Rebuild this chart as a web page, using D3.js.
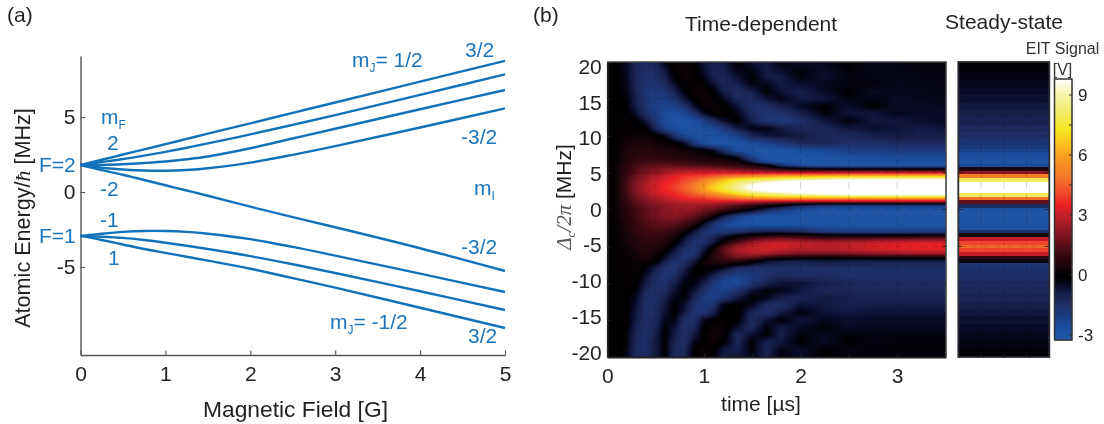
<!DOCTYPE html>
<html><head><meta charset="utf-8">
<style>
html,body{margin:0;padding:0;background:#fff;overflow:hidden}
#wrap{position:relative;width:1104px;height:424px}
canvas,svg{position:absolute;left:0;top:0}
text{font-family:"Liberation Sans",Arial,sans-serif}
</style>
<script src="https://d3js.org/d3.v7.min.js"></script>
</head><body><div id="wrap"><canvas id="heat" width="1104" height="424"></canvas><svg id="svg" width="1104" height="424"></svg></div>
<script>
// ---------- panel (a) data ----------
const fieldG = [0,.1,.25,.5,.75,1,1.25,1.5,2,2.5,3,4,5];
const levelA = [1.8,1.94,2.15,2.5,2.84,3.19,3.54,3.89,4.58,5.28,5.97,7.36,8.75];
const levelB = [1.8,1.88,2,2.2,2.43,2.68,2.95,3.24,3.84,4.48,5.13,6.48,7.85];
const levelC = [1.8,1.8,1.81,1.85,1.93,2.03,2.18,2.37,2.92,3.57,4.22,5.52,6.8];
const levelD = [1.8,1.72,1.62,1.5,1.43,1.42,1.47,1.58,1.96,2.48,3.06,4.3,5.58];
const levelE = [1.8,1.66,1.46,1.15,.8,.45,.1,-.25,-.98,-1.68,-2.35,-3.75,-5.27];
const levelF = [-2.93,-2.87,-2.78,-2.66,-2.6,-2.6,-2.66,-2.78,-3.14,-3.66,-4.24,-5.44,-6.67];
const levelG = [-2.93,-2.95,-2.98,-3.06,-3.2,-3.38,-3.58,-3.8,-4.28,-4.82,-5.4,-6.62,-7.87];
const levelH = [-2.93,-3.03,-3.2,-3.5,-3.8,-4.06,-4.32,-4.58,-5.12,-5.74,-6.38,-7.72,-9.07];
const levels = [levelA,levelB,levelC,levelD,levelE,levelF,levelG,levelH];
const fieldTicks = [0,1,2,3,4,5];
const energyTicks = [-5,0,5];

// ---------- panel (b) data ----------
const timeUs = [0,.1,.2,.3,.4,.5,.6,.7,.8,.9,1,1.1,1.2,1.35,1.5,1.65,1.8,2,2.25,2.5,2.75,3,3.25,3.5];
const detuning = [20,19,18,17,16,15,14,13,12,11,10,9,8,7,6.5,6,5.5,5,4.5,4,3.5,3,2.5,2,1.5,1,.5,0,-1,-2,-3,-3.5,-4,-4.5,-5,-5.5,-6,-6.5,-7,-8,-9,-10,-11,-12,-13,-14,-15,-16,-17,-18,-19,-20];
const signal = [
[-.1,-.1,-.5,-1.2,-1.4,-1.2,-.3,.2,.2,-.1,-.7,-1.1,-.9,-.1,-.7,-.9,-.2,-.6,-.4,-.1,-.4,-.3,-.2,-.2],
[-.1,-.1,-.45,-1.2,-1.45,-1.35,-.7,.05,.25,.05,-.55,-1.05,-1.05,-.25,-.35,-.9,-.5,-.25,-.5,-.2,-.35,-.3,-.25,-.25],
[-.1,-.1,-.4,-1.2,-1.5,-1.5,-1,-.1,.25,.1,-.4,-1,-1.2,-.6,-.1,-.9,-.9,-.2,-.6,-.25,-.3,-.4,-.3,-.3],
[-.1,-.1,-.35,-1.2,-1.6,-1.65,-1.3,-.55,.05,.2,0,-.6,-1.2,-1,-.3,-.4,-.9,-.6,-.4,-.3,-.2,-.4,-.3,-.3],
[-.1,-.1,-.3,-1.1,-1.7,-1.9,-1.7,-1,-.2,.2,.3,-.1,-.9,-1.4,-1,-.1,-.7,-1,-.5,-.1,-.5,-.4,-.4,-.3],
[-.1,-.1,-.2,-1,-1.7,-2,-2,-1.6,-.7,-.05,.25,.1,-.4,-1.3,-1.4,-.7,-.3,-.9,-.8,-.3,-.3,-.5,-.4,-.35],
[-.1,-.1,-.1,-.9,-1.6,-2.1,-2.3,-2.2,-1.6,-.5,.1,.25,.05,-.7,-1.5,-1.5,-1,-.5,-.1,-.6,-.1,-.5,-.5,-.4],
[-.1,0,0,-.6,-1.4,-2,-2.5,-2.7,-2.4,-1.7,-.6,.05,.15,-.3,-1.3,-1.7,-1.6,-1.1,-.2,-.7,-.8,-.4,-.5,-.5],
[-.1,0,.1,-.1,-.7,-1.7,-2.5,-2.9,-3,-2.7,-2.2,-1.4,-.6,-.05,-1,-1.7,-1.9,-1.6,-.8,-.2,-.8,-.8,-.6,-.5],
[-.1,0,.1,.1,-.1,-1.2,-2.2,-2.6,-2.8,-2.8,-2.6,-2.4,-1.9,-.9,-.3,-.3,-.8,-1.2,-1.2,-.8,-.6,-.7,-.9,-.7],
[-.1,0,.2,.2,.2,.1,-.4,-1.6,-2.5,-2.8,-2.9,-2.8,-2.7,-2.2,-1.2,-.8,-.7,-.9,-1.3,-1.3,-1,-.9,-1,-1],
[-.1,.1,.3,.4,.4,.3,.2,.1,-.5,-1.8,-2.7,-3,-3,-2.9,-2.5,-2.1,-1.8,-1.2,-1.2,-1.5,-1.5,-1.3,-1.3,-1.3],
[-.1,.1,.4,.6,.7,.6,.5,.4,.3,.2,.1,-.4,-1.5,-2.7,-3,-3,-3,-2.8,-2.4,-2,-1.9,-1.9,-1.9,-1.9],
[-.1,.1,.5,.8,.9,.9,.8,.7,.6,.5,.4,.3,.2,-.3,-2,-3,-3.1,-3.1,-3,-2.8,-2.7,-2.6,-2.6,-2.6],
[-.1,.1,.6,1,1.1,1.1,1.1,1,.9,.8,.7,.6,.5,.3,-1.2,-2.6,-3,-3.1,-3,-3,-2.9,-2.8,-2.8,-2.8],
[-.1,.2,.7,1.2,1.4,1.5,1.6,1.5,1.4,1.3,1.3,1.2,1.1,.9,.6,.1,-1.5,-2.6,-3,-3,-3,-3,-3,-3],
[-.1,.2,.8,1.4,1.7,1.9,2.1,2.2,2.2,2.2,2.2,2.1,2,1.7,1.4,1.1,.6,.2,0,-.1,-.1,-.1,-.1,-.1],
[-.1,.2,.9,1.5,1.9,2.2,2.5,2.8,3,3.1,3.2,3.2,3.2,3.1,3,2.9,2.8,2.8,2.8,2.9,3,3,3,3],
[-.1,.2,1,1.7,2.2,2.7,3,3.4,3.7,3.9,4.1,4.4,4.8,5.2,5.6,5.9,6.1,6.3,6.5,6.7,6.8,6.9,7,7],
[-.1,.2,1.1,1.9,2.4,2.9,3.3,3.6,4,4.4,5,5.7,6.5,7.5,8,8.4,8.8,9.2,9.6,9.9,10,10,10,10],
[-.1,.2,1.2,2,2.6,3.1,3.5,3.8,4.3,4.9,5.6,6.4,7.2,8.4,9.3,10,10.5,10.8,11,11,11,11,11,11],
[-.1,.2,1.2,2,2.6,3.2,3.6,4,4.5,5.1,5.9,6.8,7.6,8.8,9.9,10.6,11,11,11,11,11,11,11,11],
[-.1,.2,1.2,2,2.6,3.1,3.5,3.8,4.3,4.9,5.6,6.4,7.2,8.3,9.2,9.8,10.2,10.6,10.8,11,11,11,11,11],
[-.1,.2,1.1,1.9,2.4,2.9,3.2,3.5,3.9,4.3,4.7,5.2,5.7,6.6,7.5,8,8.4,8.8,9.3,9.6,9.8,9.8,9.8,9.8],
[-.1,.2,1,1.7,2.2,2.6,2.9,3.2,3.5,3.7,3.9,4.1,4.4,4.8,5.2,5.4,5.6,5.6,5.6,5.6,5.6,5.6,5.6,5.6],
[-.1,.2,.9,1.5,1.9,2.2,2.5,2.7,2.9,3,3,3,2.9,2.8,2.6,2.3,2.1,2,1.9,1.9,1.9,1.9,1.9,1.9],
[-.1,.2,.8,1.3,1.7,2,2.2,2.4,2.4,2.4,2.3,2.1,1.8,1.3,.7,.2,-.3,-1.2,-1.8,-2,-2,-2,-2,-2],
[-.1,.2,.7,1.2,1.6,1.9,2.2,2.4,2.4,2.3,2,1.7,1.3,.7,-.1,-1,-1.8,-2.6,-3,-3,-3,-3,-3,-3],
[-.1,.2,.6,1.1,1.5,1.8,2,2.1,1.9,1.6,1,.1,-1,-2.2,-2.9,-3.1,-3.1,-3,-3,-3,-3,-3,-3,-3],
[-.1,.1,.5,1,1.3,1.5,1.6,1.5,1.1,.5,-.5,-1.6,-2.3,-2.9,-3,-3,-3,-3,-3,-3,-3,-3,-3,-3],
[-.1,.1,.4,.9,1.1,1.2,1.1,.8,.2,-.7,-1.6,-1.9,-1.9,-1.7,-1.2,-1,-1,-1.3,-1.9,-2,-2,-2,-2,-2],
[-.1,.1,.3,.7,1,1,.9,.5,-.3,-1.1,-1.6,-1.4,-.9,-.3,.1,.4,.6,.5,.2,0,0,0,.1,.1],
[-.1,.1,.3,.6,.9,.9,.7,.2,-.6,-1.4,-1.6,-1,-.3,.6,1.4,1.8,2,1.8,1.5,1.6,1.7,1.8,1.9,1.9],
[-.1,.1,.3,.5,.8,.7,.5,0,-.9,-1.6,-1.5,-.8,.2,1.4,2.3,2.8,3,2.8,2.6,2.7,2.9,3.1,3.2,3.2],
[-.1,.1,.2,.5,.7,.6,.3,-.4,-1.2,-1.7,-1.2,-.1,1.2,2.4,3,3.3,3.3,3,2.9,3,3.3,3.5,3.6,3.6],
[-.1,.1,.2,.4,.6,.4,.1,-.7,-1.5,-1.7,-.8,.4,1.5,2.6,3,3,2.8,2.6,2.6,2.8,3,3.1,3.2,3.2],
[-.1,.1,.2,.3,.5,.3,-.2,-1,-1.6,-1.6,-.4,.5,1.4,2.3,2.6,2.5,2.2,1.9,1.8,2,2.2,2.3,2.4,2.4],
[-.1,.1,.15,.3,.4,.2,-.5,-1.2,-1.7,-1.4,-.3,.6,1.2,1.8,1.7,1,.5,.3,.1,.2,.3,.3,.3,.3],
[-.1,.1,.1,.2,.3,0,-.9,-1.6,-1.5,-.8,.2,.5,.8,.8,.2,-.6,-.9,-1,-.8,-.9,-1,-1,-1,-1],
[-.1,.1,.1,.2,-.2,-1,-1.6,-1.7,-1,-.2,.1,-.1,-.5,-1.3,-1.6,-1.6,-1.5,-1.5,-1.5,-1.5,-1.5,-1.5,-1.5,-1.5],
[-.1,0,.1,.1,-.5,-1.3,-1.7,-1.4,-.6,-.1,-.3,-1,-1.7,-2.2,-1.9,-1.5,-1.3,-1.4,-1.4,-1.5,-1.5,-1.5,-1.5,-1.5],
[-.1,0,.1,0,-.9,-1.5,-1.6,-1,-.2,-.2,-1,-1.8,-2.4,-2.6,-1.8,-1.1,-.7,-.7,-1,-1.3,-1.4,-1.4,-1.4,-1.4],
[-.1,0,.1,-.2,-1.2,-1.5,-1.3,-.6,-.1,-.7,-1.5,-2,-2.2,-1.6,-.7,-.2,-.3,-.8,-1.2,-1.2,-1.3,-1.3,-1.3,-1.3],
[-.1,0,0,-.5,-1.4,-1.5,-1,-.3,-.2,-1.1,-1.9,-2.1,-1.7,-.8,-.1,-.4,-1,-1.1,-.8,-1,-1.1,-1.1,-1.1,-1.1],
[-.1,0,0,-.7,-1.5,-1.4,-.8,-.1,-.6,-1.5,-1.9,-1.5,-.3,.05,-.4,-1.4,-1.5,-.7,-.8,-1,-.9,-.9,-.9,-.9],
[-.1,0,0,-.8,-1.5,-1.4,-.6,-.1,-.8,-1.6,-1.7,-1,-.1,.05,-1.2,-1.5,-.9,-.2,-.7,-.8,-.7,-.7,-.7,-.7],
[-.1,0,0,-.9,-1.5,-1.3,-.4,-.3,-1.5,-1.6,-.4,-.1,.15,-.1,-1.4,-.7,-.1,-.8,-.4,-.6,-.5,-.5,-.5,-.5],
[-.1,0,-.1,-1.1,-1.5,-1.2,-.2,-.7,-1.5,-1.3,-.1,.15,.25,-.6,-1.3,-.2,-.9,-.5,-.2,-.5,-.4,-.4,-.4,-.4],
[-.1,0,-.2,-1.2,-1.5,-1,-.1,-.9,-1.5,-.9,0,.35,.1,-1.2,-.6,-.1,-1,-.2,-.5,-.2,-.3,-.3,-.3,-.3],
[-.1,0,-.2,-1.3,-1.5,-.9,-.1,-1.2,-1.5,-.4,-.05,.3,0,-1.2,-.1,-1.1,-.8,-.1,-.5,-.1,-.3,-.2,-.2,-.2],
[-.1,0,-.3,-1.3,-1.5,-.9,-.1,-1.3,-1.3,-.1,.25,0,-.8,-1,-.2,-1.1,-.3,-.6,-.1,-.3,-.2,-.2,-.2,-.2],
[-.1,0,-.4,-1.3,-1.4,-.8,-.1,-1.4,-1.2,-.1,.25,0,-.9,-.8,-.3,-1.1,-.2,-.5,-.1,-.3,-.2,-.2,-.2,-.2]
];
const steadyDetuning = [20,19,18,17,16,15,14,13,12,11,10,9,8.5,8,7.5,7,6.5,6,5.5,5,4.5,4,3.5,3,2.5,2,1.5,1,.5,0,-.5,-1,-1.5,-2,-2.5,-3,-3.5,-4,-4.5,-5,-5.5,-6,-6.5,-7,-7.5,-8,-8.5,-9,-10,-11,-12,-13,-14,-15,-16,-17,-18,-19,-20];
const steadySignal = [-.15,-.2,-.3,-.4,-.5,-.65,-.8,-.95,-1.1,-1.3,-1.5,-1.7,-1.9,-2.2,-2.5,-2.8,-3,-2.6,.5,2.3,5,8,10.5,11,10.5,8,4.8,1.6,-1.4,-3,-3,-3,-3,-3,-2.9,-1.6,.3,3,4,4.7,4,3,.9,-.3,-1.7,-1.6,-1.5,-1.5,-1.4,-1.25,-1.1,-.95,-.8,-.65,-.5,-.4,-.3,-.2,-.1];
const timeTickLabels = [0,1,2,3];
const detuningTicks = [20,15,10,5,0,-5,-10,-15,-20];
const minorTimes = [.5,1,1.5,2,2.5,3];
const barTicks = [9,6,3,0,-3];
const barMinor = [7.5,4.5,1.5,-1.5];
const cmapValues = [-3.25,-2.5,-2,-1.5,-1,-.5,-.12,.12,.4,1,2,3,3.5,4,5,6,6.5,7.3,8,9,9.8];
const cmapColors = ["#2059a8","#1a4a9a","#1c3b80","#1d2f68","#17204c","#080926","#000000","#050105","#1a040a","#350811","#7e1420","#c5202a","#ed2024","#f0432b","#f47c2a","#f9a11f","#fbc01e","#f5e620","#f4ea60","#f6f2a8","#ffffff"];

const colour = d3.scaleLinear().domain(cmapValues).range(cmapColors).clamp(true);
const INK = "#231f20", BLUE = "#1a75bc", FS = 21;
const svg = d3.select("#svg");
const intLabel = d => String(d);

function styleAxis(g, stroke, width){
  g.selectAll("path").attr("stroke",stroke).attr("stroke-width",width);
  g.selectAll("line").attr("stroke",stroke).attr("stroke-width",1.1);
  g.selectAll("text").attr("fill",INK).attr("font-size",FS).attr("font-family","Liberation Sans");
}
function label(t,x,y,opt={}){
  return svg.append("text").attr("x",x).attr("y",y).attr("fill",opt.fill||INK)
    .attr("font-size",opt.size||FS).attr("text-anchor",opt.anchor||"start").text(t);
}
function blueSub(main,sub,x,y,rest){
  const e = label("",x,y,{fill:BLUE});
  e.append("tspan").text(main);
  e.append("tspan").attr("dy",5).attr("font-size",12).text(sub);
  if(rest) e.append("tspan").attr("dy",-5).text(rest);
}

// ---------- panel (a) ----------
const xA = d3.scaleLinear().domain([0,5]).range([80.5,505]);
const yA = d3.scaleLinear().domain([-10.87,9.07]).range([355,56]);
const gxA = svg.append("g").attr("transform","translate(0,355)")
  .call(d3.axisBottom(xA).tickValues(fieldTicks).tickFormat(intLabel).tickSize(-4.5).tickPadding(11).tickSizeOuter(0));
styleAxis(gxA,"#555",1.4);
const gyA = svg.append("g").attr("transform","translate(80.5,0)")
  .call(d3.axisLeft(yA).tickValues(energyTicks).tickFormat(intLabel).tickSize(-4.5).tickPadding(5).tickSizeOuter(0));
styleAxis(gyA,"#555",1.4);
const lineA = d3.line().x((d,i)=>xA(fieldG[i])).y(d=>yA(d)).curve(d3.curveCatmullRom);
svg.append("g").selectAll("path").data(levels).join("path")
  .attr("d",lineA).attr("fill","none").attr("stroke","#1272b9").attr("stroke-width",2.4);

label("(a)",7,22);
label("(b)",533,22);
label("Magnetic Field [G]",295.5,417,{anchor:"middle",size:22.8});
const ylabA = svg.append("text").attr("transform","translate(30,218) rotate(-90)")
  .attr("text-anchor","middle").attr("fill",INK).attr("font-size",21.6);
ylabA.append("tspan").text("Atomic Energy/");
ylabA.append("tspan").attr("font-family","Liberation Serif").attr("font-style","italic").text("ħ");
ylabA.append("tspan").text(" [MHz]");

blueSub("m","F",101,124);
label("2",107,150,{fill:BLUE});
label("F=2",39,172,{fill:BLUE});
label("-2",100,196,{fill:BLUE});
label("-1",100,227,{fill:BLUE});
label("F=1",39,243,{fill:BLUE});
label("1",108,265,{fill:BLUE});
blueSub("m","J",352,67,"= 1/2");
label("3/2",465,57,{fill:BLUE});
label("-3/2",461,144,{fill:BLUE});
blueSub("m","I",474,195);
label("-3/2",461,254,{fill:BLUE});
label("3/2",468,343,{fill:BLUE});
blueSub("m","J",330,329,"= -1/2");

// ---------- panel (b) ----------
const xB = d3.scaleLinear().domain([0,3.505]).range([607.3,946]);
const yB = d3.scaleLinear().domain([-20,20]).range([357,62]);
const xS = d3.scaleLinear().domain([0,4]).range([958.3,1049.3]);
const yBar = d3.scaleLinear().domain([-3.25,9.8]).range([340,79]);

const ctx = document.getElementById("heat").getContext("2d");
const [x0,x1] = xB.range(); const [y1,y0] = yB.range();
const ascDet = detuning.slice().reverse();
const img = ctx.createImageData(Math.ceil(x1-x0), Math.ceil(y1-y0));
function pos(arr,v){
  let i = d3.bisectRight(arr,v)-1; i = Math.max(0,Math.min(arr.length-2,i));
  return [i, Math.max(0,Math.min(1,(v-arr[i])/(arr[i+1]-arr[i])))];
}
for(let py=0;py<img.height;py++){
  const [ri,rf] = pos(ascDet,yB.invert(y0+py+.5));
  const ra = signal[detuning.length-1-ri], rb = signal[detuning.length-2-ri];
  for(let px=0;px<img.width;px++){
    const [ci,cf] = pos(timeUs,xB.invert(x0+px+.5));
    const a = ra[ci]*(1-cf)+ra[ci+1]*cf, b = rb[ci]*(1-cf)+rb[ci+1]*cf;
    const c = d3.rgb(colour(a*(1-rf)+b*rf));
    const k = (py*img.width+px)*4;
    img.data[k]=c.r; img.data[k+1]=c.g; img.data[k+2]=c.b; img.data[k+3]=255;
  }
}
ctx.putImageData(img,Math.floor(x0),Math.floor(y0));

// steady-state strip
const edge = i => i<0 ? 20 : i>=steadyDetuning.length-1 ? -20 : (steadyDetuning[i]+steadyDetuning[i+1])/2;
svg.append("g").selectAll("rect").data(steadySignal).join("rect")
  .attr("x",xS(0)).attr("width",xS(4)-xS(0))
  .attr("y",(d,i)=>yB(edge(i-1))).attr("height",(d,i)=>yB(edge(i))-yB(edge(i-1))+.4)
  .attr("fill",d=>colour(d)).attr("shape-rendering","crispEdges");

// faint dashed grid on both maps
const grid = svg.append("g").attr("stroke","#000").attr("stroke-opacity",.16).attr("stroke-width",1).attr("stroke-dasharray","7 5");
grid.selectAll(".v").data(minorTimes).join("line").attr("class","v").attr("x1",d=>xB(d)).attr("x2",d=>xB(d)).attr("y1",yB(20)).attr("y2",yB(-20));
grid.selectAll(".h").data(detuningTicks.slice(1,-1)).join("line").attr("class","h").attr("x1",xB(0)).attr("x2",xB(3.505)).attr("y1",d=>yB(d)).attr("y2",d=>yB(d));
grid.selectAll(".s").data([1,2,3]).join("line").attr("class","s").attr("x1",d=>xS(d)).attr("x2",d=>xS(d)).attr("y1",yB(20)).attr("y2",yB(-20));
grid.selectAll(".t").data(detuningTicks.slice(1,-1)).join("line").attr("class","t").attr("x1",xS(0)).attr("x2",xS(4)).attr("y1",d=>yB(d)).attr("y2",d=>yB(d));

// axes of the time-dependent map
const gyB = svg.append("g").attr("transform",`translate(${xB(0)},0)`)
  .call(d3.axisLeft(yB).tickValues(detuningTicks).tickFormat(intLabel).tickSize(-3.5).tickPadding(5.5).tickSizeOuter(0));
styleAxis(gyB,"#222",1.8);
gyB.selectAll("text").attr("transform",d=>`translate(0,${(209.5-d*7.14)-yB(d)})`);
const gxB = svg.append("g").attr("transform",`translate(0,${yB(-20)})`)
  .call(d3.axisBottom(xB).tickValues(minorTimes.concat([0])).tickFormat(d=>timeTickLabels.includes(d)?d:"").tickSize(-3.5).tickPadding(11).tickSizeOuter(0));
styleAxis(gxB,"#222",2);
svg.append("path").attr("d",`M${xB(0)},${yB(20)}H${xB(3.505)}V${yB(-20)}`).attr("fill","none").attr("stroke","#444").attr("stroke-width",1.6);
svg.append("g").selectAll("line").data(detuningTicks.slice(1,-1)).join("line")
  .attr("x1",xB(3.505)-3.5).attr("x2",xB(3.505)).attr("y1",d=>yB(d)).attr("y2",d=>yB(d)).attr("stroke","#222");

// frame of the steady-state strip
svg.append("rect").attr("x",xS(0)).attr("y",yB(20)).attr("width",xS(4)-xS(0)).attr("height",yB(-20)-yB(20))
  .attr("fill","none").attr("stroke","#2b2b33").attr("stroke-width",1.8);
const steadyT = svg.append("g").attr("stroke","#222");
steadyT.selectAll(".l").data(detuningTicks.slice(1,-1)).join("line").attr("class","l").attr("x1",xS(0)).attr("x2",xS(0)+3.5).attr("y1",d=>yB(d)).attr("y2",d=>yB(d));
steadyT.selectAll(".r").data(detuningTicks.slice(1,-1)).join("line").attr("class","r").attr("x1",xS(4)-3.5).attr("x2",xS(4)).attr("y1",d=>yB(d)).attr("y2",d=>yB(d));
steadyT.selectAll(".b").data([1,2,3]).join("line").attr("class","b").attr("x1",d=>xS(d)).attr("x2",d=>xS(d)).attr("y1",yB(-20)-3.5).attr("y2",yB(-20));

// colour bar
const barSteps = d3.range(yBar.range()[1],yBar.range()[0]);
svg.append("g").selectAll("rect").data(barSteps).join("rect")
  .attr("x",1054.5).attr("width",17.5).attr("y",d=>d).attr("height",1.3)
  .attr("fill",d=>colour(yBar.invert(d+.5)));
svg.append("rect").attr("x",1054.5).attr("y",79).attr("width",17.5).attr("height",261).attr("fill","none").attr("stroke","#333").attr("stroke-width",1.5);
const xBarAxis = svg.append("g").attr("transform","translate(1072,0)")
  .call(d3.axisRight(yBar).tickValues(barTicks).tickFormat(intLabel).tickSize(0).tickPadding(6));
xBarAxis.select("path").remove();
xBarAxis.selectAll("text").attr("fill",INK).attr("font-size",17);
svg.append("g").selectAll("line").data(barTicks.concat(barMinor)).join("line")
  .attr("x1",1072-3).attr("x2",1072).attr("y1",d=>yBar(d)).attr("y2",d=>yBar(d)).attr("stroke","#333");

label("Time-dependent",761,31,{anchor:"middle"});
label("Steady-state",1004,29,{anchor:"middle"});
label("EIT Signal",1062.5,54,{anchor:"middle",size:16,fill:"#333"});
label("[V]",1062.5,75,{anchor:"middle",size:16,fill:"#333"});
label("time [µs]",761,411,{anchor:"middle"});

const ylabB = svg.append("text").attr("transform","translate(571,197) rotate(-90)")
  .attr("text-anchor","middle").attr("fill",INK).attr("font-size",FS);
const serif = {ff:"Liberation Serif"};
ylabB.append("tspan").attr("font-family",serif.ff).attr("font-style","italic").attr("fill","#555").text("Δ");
ylabB.append("tspan").attr("font-family",serif.ff).attr("font-style","italic").attr("font-size",13).attr("dy",4).attr("fill","#555").text("c");
ylabB.append("tspan").attr("font-family",serif.ff).attr("font-style","italic").attr("dy",-4).attr("fill","#555").text("/2π");
ylabB.append("tspan").text(" [MHz]");
</script></body></html>
